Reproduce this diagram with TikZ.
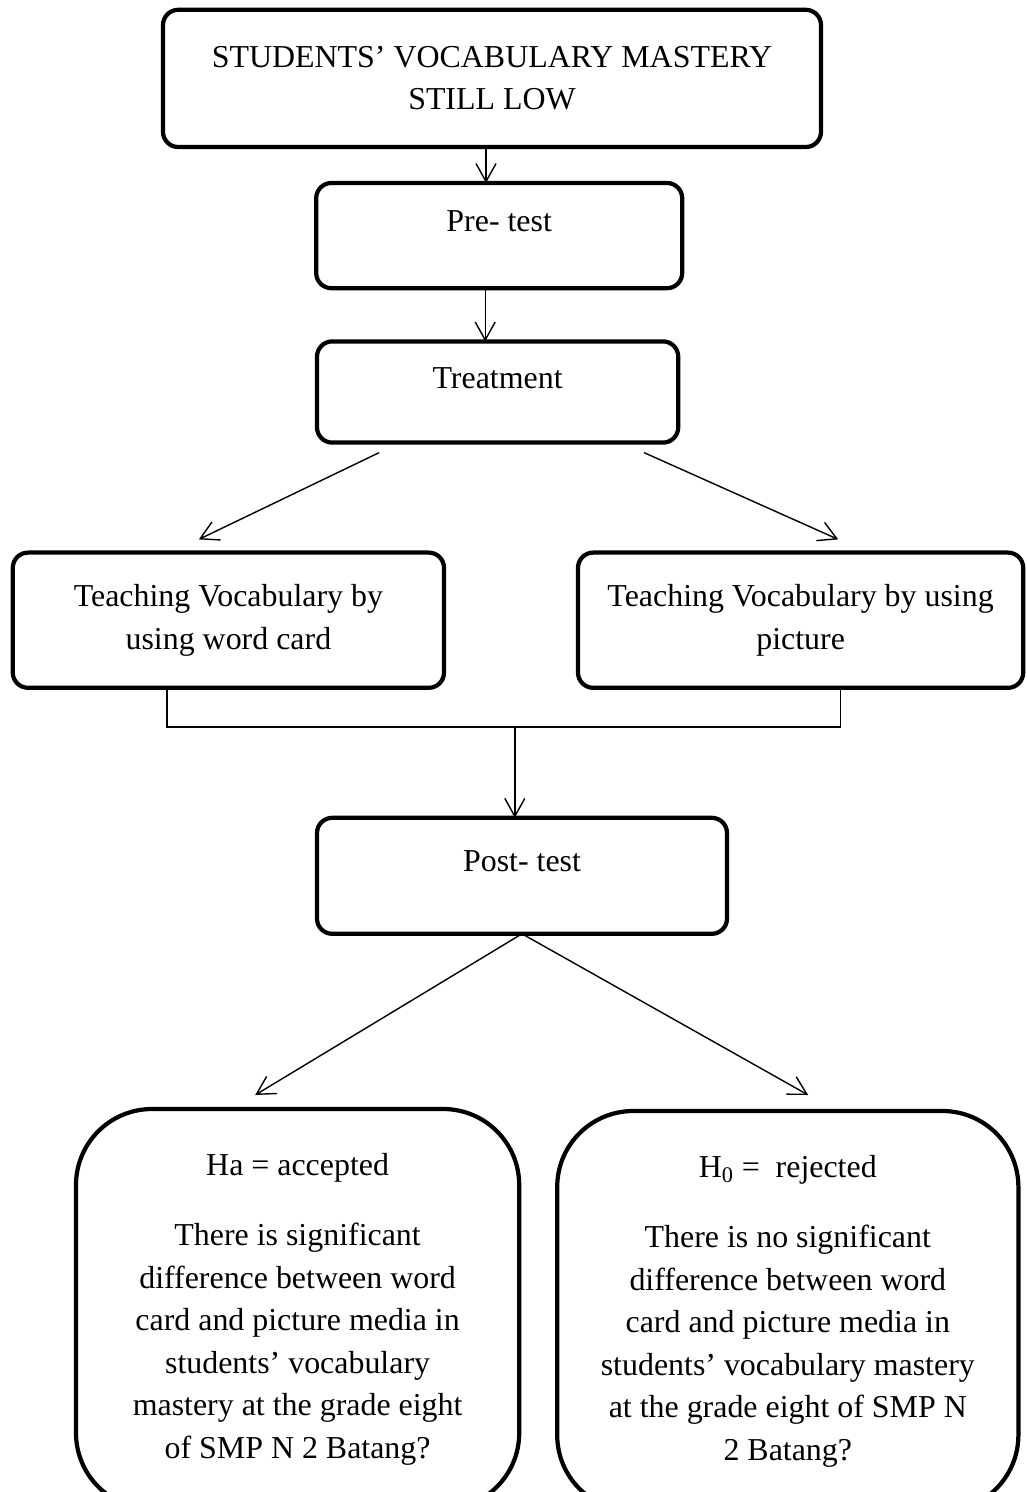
\documentclass[tikz,border=0pt]{standalone}
\usepackage{fontspec}
\setmainfont{Liberation Serif}
\usepackage{tikz}
\usetikzlibrary{positioning, arrows.meta, calc}

\begin{document}
\begin{tikzpicture}[
    box/.style={draw, line width=3pt, rounded corners=0.38cm, align=center, inner sep=2pt, outer sep=0pt},
    bigbox/.style={box, rounded corners=1.9cm},
    lifted/.style={text height=0.6cm, text depth=0.8cm},
    arr/.style={-{Straight Barb[length=4.5mm, width=5mm]}, line width=1pt},
    link/.style={line width=1pt},
    every node/.style={font=\fontsize{22.7}{30.2}\selectfont}
]
\useasboundingbox (0,0) rectangle (25.65,-37.3);

% Problem
\node[box, minimum width=16.45cm, minimum height=3.43cm] (problem) at (12.30,-1.96) {
    STUDENTS’ VOCABULARY MASTERY\\
    STILL LOW
};

% Pre-test
\node[box, lifted, minimum width=9.15cm, minimum height=2.63cm, below=0.9cm of problem, xshift=0.18cm] (pretest) {Pre- test};

% Treatment
\node[box, lifted, minimum width=9.03cm, minimum height=2.53cm, below=1.33cm of pretest, xshift=-0.04cm] (treatment) {Treatment};

% Two media
\node[box, minimum width=10.78cm, minimum height=3.38cm, below=2.75cm of treatment, xshift=-6.73cm] (wordcard) {
    Teaching Vocabulary by\\
    using word card
};
\node[box, minimum width=11.13cm, minimum height=3.38cm, right=3.35cm of wordcard] (picture) {
    Teaching Vocabulary by using\\
    picture
};

% Post-test
\node[box, lifted, minimum width=10.25cm, minimum height=2.9cm, below=9.38cm of treatment, xshift=0.61cm] (posttest) {Post- test};

% Hypotheses
\node[bigbox, minimum width=11.08cm, minimum height=10cm, below=4.38cm of posttest, xshift=-5.61cm] (accepted) {
    Ha = accepted\\[0.7cm]
    There is significant\\
    difference between word\\
    card and picture media in\\
    students’ vocabulary\\
    mastery at the grade eight\\
    of SMP N 2 Batang?
};
\node[bigbox, minimum width=11.53cm, minimum height=10cm, right=0.95cm of accepted, yshift=-0.05cm] (rejected) {
    H\textsubscript{0} =\ \ rejected\\[0.7cm]
    There is no significant\\
    difference between word\\
    card and picture media in\\
    students’ vocabulary mastery\\
    at the grade eight of SMP N\\
    2 Batang?
};

% Arrows
\draw[arr] ([xshift=-0.15cm]problem.south) -- ([xshift=-0.15cm]problem.south |- pretest.north);
\draw[arr] ([xshift=-0.35cm]pretest.south) -- ([xshift=-0.35cm]pretest.south |- treatment.north);
\draw[arr] ([xshift=-2.96cm, yshift=-0.25cm]treatment.south) -- ([xshift=-0.74cm, yshift=0.33cm]wordcard.north);
\draw[arr] ([xshift=3.66cm, yshift=-0.25cm]treatment.south) -- ([xshift=0.94cm, yshift=0.33cm]picture.north);

% Joining bar
\coordinate[below=0.98cm of wordcard.south] (bar);
\draw[link] ([xshift=-1.54cm]wordcard.south) -- ([xshift=-1.54cm]bar) -| ([xshift=0.99cm]picture.south);
\draw[arr] ([xshift=-0.18cm]bar -| posttest.north) -- ([xshift=-0.18cm]posttest.north);

\draw[arr] (posttest.south) -- ([xshift=-1.06cm, yshift=0.35cm]accepted.north);
\draw[arr] (posttest.south) -- ([xshift=0.51cm, yshift=0.4cm]rejected.north);

\end{tikzpicture}
\end{document}
